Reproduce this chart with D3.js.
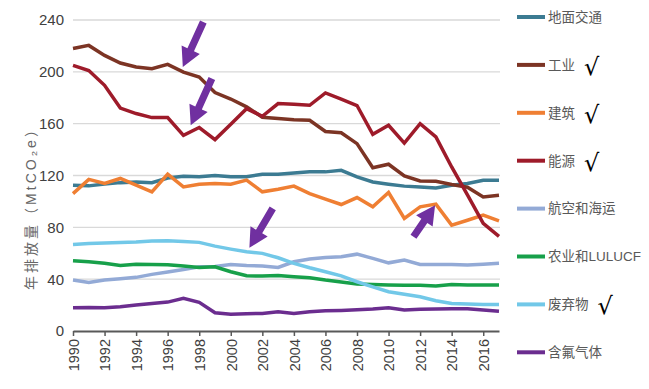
<!DOCTYPE html>
<html>
<head>
<meta charset="utf-8">
<script src="https://cdn.jsdelivr.net/npm/d3@7"></script>
<style>
  body { margin: 0; background: #fff; }
  svg { display: block; font-family: "Liberation Sans", Arial, "Noto Sans CJK SC", sans-serif; }
</style>
</head>
<body>
<div id="chart"></div>
<script>
const years = [1990, 1991, 1992, 1993, 1994, 1995, 1996, 1997, 1998, 1999, 2000, 2001, 2002, 2003,
  2004, 2005, 2006, 2007, 2008, 2009, 2010, 2011, 2012, 2013, 2014, 2015, 2016, 2017];
const yTicks = [0, 40, 80, 120, 160, 200, 240];
const xTicks = [1990, 1992, 1994, 1996, 1998, 2000, 2002, 2004, 2006, 2008, 2010, 2012, 2014, 2016];

const groundTransport = [112.5, 112, 113.5, 114.5, 115, 114.5, 118, 119.5, 119, 120, 119, 119, 121, 121,
  122, 122.8, 122.8, 124, 119, 115, 113.3, 111.8, 111.2, 110.4, 112.5, 113.8, 116.4, 116.4];
const industry = [218, 220.4, 212.7, 206.8, 203.7, 202.4, 205.8, 199.8, 196, 184, 179, 173, 165, 164,
  163, 162.6, 154, 153, 144.6, 126, 128.7, 119.7, 115.8, 115.5, 113, 111, 103.5, 104.8];
const building = [106, 117, 113.8, 117.7, 112.5, 107.4, 121, 111.2, 113.3, 113.8, 113.3, 116.4, 107.4, 109.4,
  111.8, 106, 101.7, 97.6, 103, 95.8, 106.9, 86.8, 95.8, 97.9, 81.7, 85.5, 89.4, 85];
const energy = [205, 201, 189.6, 172, 167.8, 164.7, 164.7, 151, 157, 147.7, 159.5, 171.6, 165.7, 175.5,
  175, 174.2, 183.7, 179, 174, 151.8, 158.8, 145, 160, 149.8, 126.6, 105, 83, 73];
const aviation = [39.3, 37.5, 39.3, 40.3, 41.4, 43.7, 45.5, 47.5, 49.6, 49.8, 51.4, 50.6, 50.1, 49,
  53.4, 55.5, 56.8, 57.3, 59.3, 56, 52.6, 54.7, 51.4, 51.4, 51.4, 50.9, 51.6, 52.2];
const agriculture = [54.2, 53.4, 52.2, 50.6, 51.6, 51.4, 51.1, 50.1, 49.1, 49.6, 45.7, 42.6, 42.4, 42.9,
  41.9, 41.1, 39.3, 37.8, 36.2, 35.9, 35.5, 35.3, 35.3, 34.7, 35.9, 35.5, 35.5, 35.5];
const waste = [66.8, 67.6, 68, 68.2, 68.6, 69.4, 69.6, 69.1, 68.4, 65.5, 63.2, 61.1, 59.9, 56.5,
  52.2, 48.8, 45.7, 42.6, 38, 34.1, 30.3, 28.3, 26.4, 23.4, 21.3, 20.8, 20.5, 20.5];
const fluorinated = [18, 18.2, 18, 18.7, 20, 21.3, 22.3, 25.2, 22.1, 14.1, 12.9, 13.4, 13.6, 14.9,
  13.6, 14.9, 15.6, 15.9, 16.4, 17, 18, 16.2, 16.7, 17, 17.2, 17.2, 16.2, 15.2];

const seriesNames = ["地面交通", "工业", "建筑", "能源", "航空和海运", "农业和LULUCF", "废弃物", "含氟气体"];
const seriesValues = [groundTransport, industry, building, energy, aviation, agriculture, waste, fluorinated];
const seriesColors = ["#3c7b92", "#7c3424", "#ef7f33", "#9e1b2a", "#93aad6", "#17a04a", "#72c8e8", "#6b2d8f"];
const checked = ["工业", "建筑", "能源", "废弃物"];

// annotation arrows in data units: [yearFrom, valueFrom, yearTo, valueTo]
const arrows = [
  [1998.26, 238.4, 1996.96, 203.7],
  [1998.8, 194.8, 1997.46, 158.8],
  [2002.66, 94.6, 2001.18, 64.2],
  [2011.58, 72.7, 2012.95, 97.1]
];

const W = 649, H = 389;
const margin = { top: 20, right: 150, bottom: 58, left: 73 };

const svg = d3.select("#chart").append("svg")
  .attr("width", W)
  .attr("height", H);

const x = d3.scaleLinear().domain([1990, 2017]).range([margin.left, 499]);
const y = d3.scaleLinear().domain([0, 240]).range([331, margin.top]);

// gridlines
svg.append("g")
  .selectAll("line")
  .data(yTicks.filter(d => d > 0))
  .enter()
  .append("line")
  .attr("x1", margin.left)
  .attr("x2", 500)
  .attr("y1", d => y(d))
  .attr("y2", d => y(d))
  .attr("stroke", "#d9d9d9")
  .attr("stroke-width", 1.3);

// y labels
svg.append("g")
  .selectAll("text")
  .data(yTicks)
  .enter()
  .append("text")
  .attr("x", 64)
  .attr("y", d => y(d))
  .attr("dy", "0.36em")
  .attr("text-anchor", "end")
  .attr("font-size", 15)
  .attr("fill", "#404040")
  .text(d => d);

// x axis
const xAxis = d3.axisBottom(x)
  .tickValues(xTicks)
  .tickSize(5)
  .tickSizeOuter(0)
  .tickFormat(d3.format("d"));

const gx = svg.append("g")
  .attr("transform", `translate(0,${y(0)})`)
  .call(xAxis);

gx.select(".domain").attr("stroke", "#595959").attr("stroke-width", 2);
gx.selectAll(".tick line").attr("stroke", "#595959").attr("stroke-width", 1.5);
gx.selectAll("text")
  .attr("transform", "rotate(-90)")
  .attr("x", -8)
  .attr("y", 0)
  .attr("dy", "0.36em")
  .attr("text-anchor", "end")
  .attr("font-size", 14.5)
  .attr("font-family", "Liberation Sans, Arial, sans-serif")
  .attr("fill", "#404040");

// y axis title
svg.append("text")
  .attr("transform", `translate(31,${205}) rotate(-90)`)
  .attr("text-anchor", "middle")
  .attr("dy", "0.36em")
  .attr("font-size", 14)
  .attr("letter-spacing", 3)
  .attr("fill", "#666")
  .text("年排放量（MtCO₂e）");

// lines
const line = d3.line()
  .x((d, i) => x(years[i]))
  .y(d => y(d));

svg.append("g")
  .selectAll("path")
  .data(seriesValues)
  .enter()
  .append("path")
  .attr("d", d => line(d))
  .attr("fill", "none")
  .attr("stroke", (d, i) => seriesColors[i])
  .attr("stroke-width", 3.5)
  .attr("stroke-linejoin", "miter")
  .attr("stroke-linecap", "butt");

// arrows
const arrowShape = (a) => {
  const x0 = x(a[0]), y0 = y(a[1]), x1 = x(a[2]), y1 = y(a[3]);
  const dx = x1 - x0, dy = y1 - y0;
  const len = Math.hypot(dx, dy);
  const ux = dx / len, uy = dy / len;
  const nx = -uy, ny = ux;
  const headLen = 19, headW = 10, shaftW = 3.6;
  const bx = x1 - ux * headLen, by = y1 - uy * headLen;
  const pts = [
    [x0 + nx * shaftW, y0 + ny * shaftW],
    [bx + nx * shaftW, by + ny * shaftW],
    [bx + nx * headW, by + ny * headW],
    [x1, y1],
    [bx - nx * headW, by - ny * headW],
    [bx - nx * shaftW, by - ny * shaftW],
    [x0 - nx * shaftW, y0 - ny * shaftW]
  ];
  return "M" + pts.map(p => p.join(",")).join("L") + "Z";
};

svg.append("g")
  .selectAll("path")
  .data(arrows)
  .enter()
  .append("path")
  .attr("d", arrowShape)
  .attr("fill", "#7030a0");

// legend
const legend = svg.append("g")
  .attr("transform", "translate(517,17)");

const rows = legend.selectAll("g")
  .data(seriesNames)
  .enter()
  .append("g")
  .attr("transform", (d, i) => `translate(0,${i * 47.9})`);

rows.append("line")
  .attr("x1", 0)
  .attr("x2", 28)
  .attr("stroke", (d, i) => seriesColors[i])
  .attr("stroke-width", 4);

rows.append("text")
  .attr("x", 31)
  .attr("dy", "0.36em")
  .attr("font-size", 13.5)
  .attr("fill", "#595959")
  .text(d => d);

rows.filter(d => checked.includes(d))
  .append("text")
  .attr("x", function() {
    const t = this.parentNode.querySelector("text");
    return 31 + t.getComputedTextLength() + 9;
  })
  .attr("dy", "0.42em")
  .attr("font-size", 24)
  .attr("font-family", "DejaVu Sans, sans-serif")
  .attr("fill", "#000")
  .text("√");
</script>
</body>
</html>
